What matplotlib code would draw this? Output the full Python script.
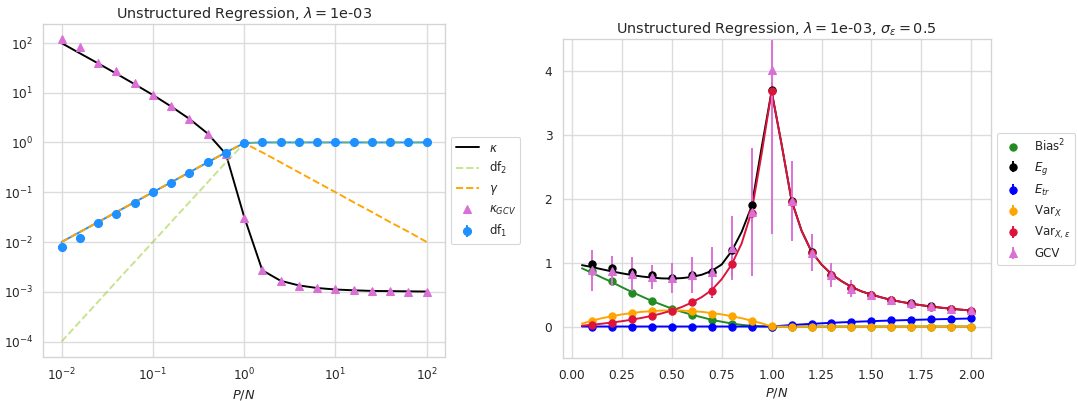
import numpy as np
import seaborn as sns
from matplotlib import pyplot as plt

sns.set_theme(style='whitegrid', context='notebook',
              rc={'lines.linewidth': 1.8, 'grid.linewidth': 1.3, 'grid.color': '#dcdcdc',
                  'axes.edgecolor': '#d4d4d4',
                  'axes.titlesize': 13.4, 'xtick.labelsize': 11.3, 'ytick.labelsize': 11.3})

# ---- left panel: unstructured regression, log-log ----
q = [0.01, 0.0158, 0.0251, 0.0398, 0.0631, 0.1, 0.158, 0.251, 0.398, 0.631, 1.0,
     1.58, 2.51, 3.98, 6.31, 10, 15.8, 25.1, 39.8, 63.1, 100]
kappa = [99, 62, 38.8, 24.1, 14.8, 9.0, 5.3, 2.98, 1.51, 0.585, 0.032,
         0.0027, 0.00166, 0.00134, 0.00119, 0.00111, 0.00107, 0.00104, 0.00103, 0.00102, 0.00101]
kappa_gcv = [120, 82, 40, 27, 15.5, 8.8, 5.3, 3.0, 1.5, 0.58, 0.031,
             0.0028, 0.00167, 0.00132, 0.0012, 0.00112, 0.00107, 0.00104, 0.00102, 0.00101, 0.001]
df1_th = [0.01, 0.0158, 0.0251, 0.0398, 0.0631, 0.1, 0.158, 0.251, 0.398, 0.631, 0.97,
          1, 1, 1, 1, 1, 1, 1, 1, 1, 1]
df1_emp = [0.0079, 0.0121, 0.0243, 0.036, 0.0596, 0.099, 0.155, 0.247, 0.40, 0.62, 0.97,
           1, 1, 1, 1, 1, 1, 1, 1, 1, 1]
df2 = [1e-4, 2.5e-4, 6.3e-4, 1.6e-3, 4e-3, 0.01, 0.025, 0.063, 0.158, 0.398, 0.95,
       1, 1, 1, 1, 1, 1, 1, 1, 1, 1]
gamma = [0.01, 0.0158, 0.0251, 0.0398, 0.0631, 0.1, 0.158, 0.251, 0.398, 0.631, 0.97,
         0.631, 0.398, 0.251, 0.158, 0.1, 0.063, 0.04, 0.025, 0.016, 0.01]

# ---- right panel: risk decomposition ----
qt = [0.05, 0.10, 0.15, 0.20, 0.25, 0.30, 0.35, 0.40, 0.45, 0.50,
      0.55, 0.60, 0.65, 0.70, 0.75, 0.80, 0.85, 0.90, 0.95, 1.00,
      1.05, 1.10, 1.15, 1.20, 1.25, 1.30, 1.35, 1.40, 1.45, 1.50,
      1.55, 1.60, 1.65, 1.70, 1.75, 1.80, 1.85, 1.90, 1.95, 2.00]
bias_th = [0.91, 0.84, 0.765, 0.695, 0.615, 0.54, 0.47, 0.40, 0.34, 0.28,
           0.23, 0.185, 0.145, 0.105, 0.075, 0.047, 0.026, 0.011, 0.003, 0.0] + [0.0] * 20
eg_th = [0.96, 0.93, 0.895, 0.862, 0.832, 0.805, 0.782, 0.765, 0.753, 0.75,
         0.757, 0.775, 0.81, 0.87, 0.97, 1.18, 1.48, 1.88, 2.8, 3.68,
         2.85, 1.97, 1.5, 1.17, 0.97, 0.82, 0.71, 0.62, 0.55, 0.5,
         0.455, 0.415, 0.385, 0.357, 0.333, 0.3125, 0.294, 0.278, 0.263, 0.25]
etr_th = [0.0] * 20 + [0.012, 0.023, 0.033, 0.042, 0.05, 0.058, 0.065, 0.071, 0.078, 0.083,
                       0.089, 0.094, 0.098, 0.103, 0.107, 0.111, 0.115, 0.118, 0.122, 0.125]
varx_th = [0.045, 0.09, 0.13, 0.16, 0.19, 0.21, 0.23, 0.24, 0.25, 0.25,
           0.25, 0.24, 0.23, 0.21, 0.19, 0.16, 0.13, 0.09, 0.05, 0.0] + [0.0] * 20
varxe_th = [0.013, 0.028, 0.044, 0.0625, 0.083, 0.107, 0.135, 0.167, 0.205, 0.25,
            0.305, 0.375, 0.46, 0.57, 0.74, 0.97, 1.3, 1.8, 2.7, 3.68,
            2.85, 1.97, 1.5, 1.17, 0.97, 0.82, 0.71, 0.62, 0.55, 0.5,
            0.455, 0.415, 0.385, 0.357, 0.333, 0.3125, 0.294, 0.278, 0.263, 0.25]

qe = [0.1, 0.2, 0.3, 0.4, 0.5, 0.6, 0.7, 0.8, 0.9, 1.0,
      1.1, 1.2, 1.3, 1.4, 1.5, 1.6, 1.7, 1.8, 1.9, 2.0]
bias_emp = [0.87, 0.71, 0.53, 0.40, 0.27, 0.18, 0.10, 0.04, 0.01, 0.0,
            0, 0, 0, 0, 0, 0, 0, 0, 0, 0]
eg_emp = [0.98, 0.91, 0.85, 0.80, 0.76, 0.80, 0.85, 1.2, 1.9, 3.7,
          1.97, 1.16, 0.8, 0.6, 0.5, 0.42, 0.36, 0.32, 0.28, 0.25]
eg_err = [0.03, 0.03, 0.03, 0.03, 0.03, 0.03, 0.04, 0.06, 0.08, 0.12,
          0.06, 0.04, 0.03, 0.02, 0.02, 0.01, 0.01, 0.01, 0.01, 0.01]
etr_emp = [0, 0, 0, 0, 0, 0, 0, 0, 0, 0.0,
           0.02, 0.045, 0.06, 0.07, 0.085, 0.095, 0.105, 0.115, 0.12, 0.13]
etr_err = [0.003] * 20
varx_emp = [0.09, 0.16, 0.21, 0.24, 0.25, 0.24, 0.20, 0.16, 0.09, 0.01,
            0, 0, 0, 0, 0, 0, 0, 0, 0, 0]
varx_err = [0.005] * 20
varxe_emp = [0.03, 0.06, 0.11, 0.17, 0.24, 0.38, 0.56, 0.97, 1.78, 3.68,
             1.95, 1.15, 0.8, 0.6, 0.5, 0.41, 0.35, 0.31, 0.28, 0.25]
varxe_err = [0.01, 0.02, 0.02, 0.03, 0.04, 0.05, 0.12, 0.18, 0.15, 0.1,
             0.08, 0.08, 0.08, 0.05, 0.03, 0.02, 0.01, 0.01, 0.01, 0.01]
gcv_emp = [0.88, 0.87, 0.82, 0.77, 0.755, 0.8, 0.85, 1.23, 1.79, 4.01,
           1.96, 1.155, 0.81, 0.59, 0.5, 0.42, 0.36, 0.32, 0.28, 0.255]
gcv_err = [0.32, 0.23, 0.27, 0.19, 0.235, 0.28, 0.39, 0.5, 1.0, 2.56,
           0.63, 0.29, 0.19, 0.13, 0.05, 0.03, 0.02, 0.015, 0.01, 0.01]

fig = plt.figure(figsize=(14, 5.21), dpi=77)

ax1 = fig.add_axes([0.0402, 0.1105, 0.3726, 0.8297])
ax1.plot(q, df1_th, color='dodgerblue')
ax1.plot(q, kappa, color='black', label=r'$\kappa$')
ax1.plot(q, df2, '--', color='yellowgreen', alpha=0.55, label=r'df$_2$')
ax1.plot(q, gamma, '--', color='orange', label=r'$\gamma$')
ax1.plot(q, kappa_gcv, '^', color='orchid', ms=7.5, label=r'$\kappa_{GCV}$')
ax1.errorbar(q, df1_emp, yerr=np.array(df1_emp) * 0.02, fmt='o', color='dodgerblue',
             ms=7.5, label=r'df$_1$')
ax1.set_xscale('log')
ax1.set_yscale('log')
ax1.set_xlabel(r'$P/N$')
ax1.set_title(r'Unstructured Regression, $\lambda = $1e-03')
ax1.legend(loc='center left', bbox_to_anchor=(1, 0.5))

ax2 = fig.add_axes([0.5218, 0.106, 0.3972, 0.7968])
ax2.plot(qt, bias_th, color='forestgreen')
ax2.plot(qt, eg_th, color='black')
ax2.plot(qt, etr_th, color='blue')
ax2.plot(qt, varx_th, color='orange')
ax2.plot(qt, varxe_th, color='crimson')
ax2.plot(qe, bias_emp, 'o', color='forestgreen', ms=6.8, label=r'Bias$^2$')
ax2.errorbar(qe, eg_emp, yerr=eg_err, fmt='o', color='black', ms=6.8, label=r'$E_g$')
ax2.errorbar(qe, etr_emp, yerr=etr_err, fmt='o', color='blue', ms=6.8, label=r'$E_{tr}$')
ax2.errorbar(qe, varx_emp, yerr=varx_err, fmt='o', color='orange', ms=6.8, label=r'Var$_X$')
ax2.errorbar(qe, varxe_emp, yerr=varxe_err, fmt='o', color='crimson', ms=6.8,
             label=r'Var$_{X,\varepsilon}$')
ax2.errorbar(qe, gcv_emp, yerr=gcv_err, fmt='^', color='orchid', ms=6.8, label='GCV')
ax2.set_ylim(-0.5, 4.5)
ax2.set_xlabel(r'$P/N$')
ax2.set_title(r'Unstructured Regression, $\lambda = $1e-03, $\sigma_\varepsilon = 0.5$')
ax2.legend(loc='center left', bbox_to_anchor=(1, 0.5))

fig.savefig('out.png')
